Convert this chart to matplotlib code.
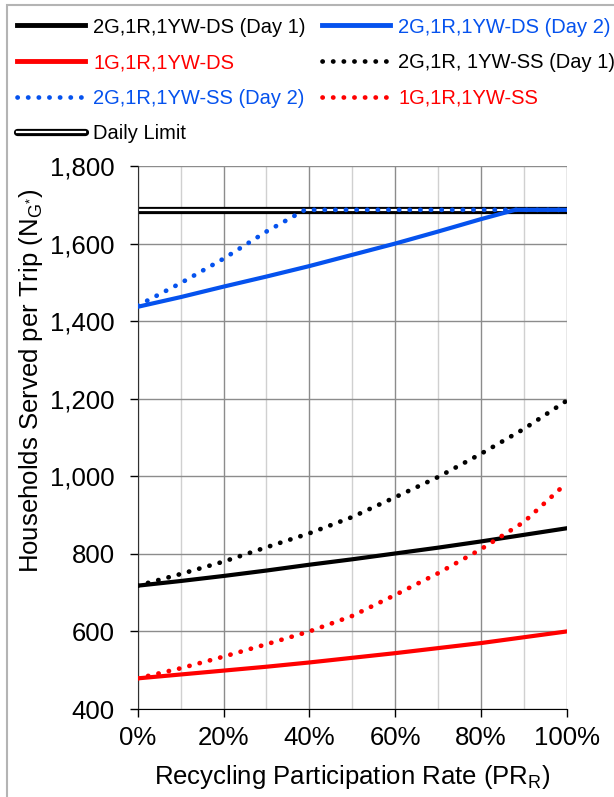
import matplotlib
matplotlib.use("Agg")
import matplotlib.pyplot as plt
from matplotlib.lines import Line2D
from matplotlib.legend_handler import HandlerTuple
from matplotlib.ticker import FuncFormatter, MultipleLocator

plt.rcParams['font.family'] = ['Liberation Sans', 'DejaVu Sans']
plt.rcParams['mathtext.fontset'] = 'custom'
plt.rcParams['mathtext.rm'] = 'Liberation Sans'
plt.rcParams['mathtext.it'] = 'Liberation Sans:italic'

# recycling participation rate (fraction)
pr = [0.0, 0.1, 0.2, 0.3, 0.4, 0.5, 0.6, 0.7, 0.8, 0.9, 1.0]

ds_day1 = [718, 730, 743, 757, 772, 786, 801, 816, 832, 849, 866]
ds_1g = [479, 489, 499, 509, 520, 532, 544, 557, 570, 585, 600]
ss_day1 = [718, 748, 780, 817, 853, 895, 946, 998, 1058, 1122, 1195]
ss_1g = [479, 505, 535, 567, 600, 640, 694, 750, 812, 882, 983]

pr_ds_day2 = [0.0, 0.1, 0.2, 0.3, 0.4, 0.5, 0.6, 0.7, 0.8, 0.88, 0.9, 1.0]
ds_day2 = [1437, 1462, 1489, 1515, 1542, 1571, 1600, 1631, 1663, 1687, 1687, 1687]
pr_ss_day2 = [0.0, 0.1, 0.2, 0.3, 0.39, 0.5, 0.6, 0.7, 0.8, 0.9, 1.0]
ss_day2 = [1440, 1498, 1561, 1631, 1687, 1687, 1687, 1687, 1687, 1687, 1687]

daily_limit = 1687

BLUE = '#0552ee'
RED = '#ff0000'
dots = (0, (0.05, 2.2))
DOT_LW = 3.4

fig = plt.figure(figsize=(6.14, 7.97), dpi=100)
ax = fig.add_axes([0.2243, 0.1104, 0.6987, 0.6813])

# daily limit: double line
ax.plot([0, 1], [daily_limit, daily_limit], color='black', lw=5.2, solid_capstyle='butt', zorder=2)
ax.plot([0, 1], [daily_limit, daily_limit], color='white', lw=1.6, solid_capstyle='butt', zorder=2)

ax.plot(pr, ds_day1, color='black', lw=3, zorder=3)
ax.plot(pr, ds_1g, color=RED, lw=3, zorder=3)
ax.plot(pr_ds_day2, ds_day2, color=BLUE, lw=3, zorder=3)
ax.plot(pr, ss_day1, color='black', lw=DOT_LW, linestyle=dots, dash_capstyle='round', zorder=3)
ax.plot(pr, ss_1g, color=RED, lw=DOT_LW, linestyle=dots, dash_capstyle='round', zorder=3)
ax.plot(pr_ss_day2, ss_day2, color=BLUE, lw=DOT_LW, linestyle=dots, dash_capstyle='round', zorder=3)

ax.set_xlim(0, 1)
ax.set_ylim(400, 1800)
ax.xaxis.set_major_locator(MultipleLocator(0.2))
ax.xaxis.set_minor_locator(MultipleLocator(0.1))
ax.yaxis.set_major_locator(MultipleLocator(200))
ax.xaxis.set_major_formatter(FuncFormatter(lambda v, p: f'{v*100:.0f}%'))
ax.yaxis.set_major_formatter(FuncFormatter(lambda v, p: f'{v:,.0f}'))

ax.grid(which='major', color='#8c8c8c', lw=1.0)
ax.grid(which='minor', axis='x', color='#d0d0d0', lw=1.0)
ax.set_axisbelow(True)
for s in ['top', 'right']:
    ax.spines[s].set_visible(False)
ax.spines['left'].set_color('#303030')
ax.spines['bottom'].set_color('black')
ax.tick_params(axis='both', which='major', direction='out', length=5.5, width=1,
               labelsize=18.5, colors='black')
ax.tick_params(axis='y', pad=11)
ax.tick_params(axis='x', pad=7)
ax.tick_params(axis='x', which='minor', length=0)

ax.set_xlabel('Recycling Participation Rate (PR$_\\mathrm{R}$)', fontsize=18.5, labelpad=9)
ax.set_ylabel('Households Served per Trip (N$_{\\mathrm{G}^{*}}$)', fontsize=18.5)
ax.yaxis.set_label_coords(-0.215, 0.604)

# legend (column-first order)
h_ds1 = Line2D([], [], color='black', lw=3.5)
h_ds2 = Line2D([], [], color=BLUE, lw=3.5)
h_1gds = Line2D([], [], color=RED, lw=3.5)
h_ss1 = Line2D([], [], color='black', lw=DOT_LW, linestyle=dots, dash_capstyle='round')
h_ss2 = Line2D([], [], color=BLUE, lw=DOT_LW, linestyle=dots, dash_capstyle='round')
h_1gss = Line2D([], [], color=RED, lw=DOT_LW, linestyle=dots, dash_capstyle='round')
h_lim = (Line2D([], [], color='black', lw=5.2, solid_capstyle='round'),
         Line2D([], [], color='white', lw=1.6))

handles = [h_ds1, h_1gds, h_ss2, h_lim, h_ds2, h_ss1, h_1gss]
labels = ['2G,1R,1YW-DS (Day 1)', '1G,1R,1YW-DS', '2G,1R,1YW-SS (Day 2)', 'Daily Limit',
          '2G,1R,1YW-DS (Day 2)', '2G,1R, 1YW-SS (Day 1)', '1G,1R,1YW-SS']
text_colors = ['black', RED, BLUE, 'black', BLUE, 'black', RED]

leg = fig.legend(handles, labels, ncol=2, loc='upper left', bbox_to_anchor=(0.027, 0.978),
                 frameon=False, fontsize=14.5, handlelength=3.4, handletextpad=0.4,
                 columnspacing=0.8, labelspacing=0.82, borderpad=0, borderaxespad=0,
                 handler_map={tuple: HandlerTuple(ndivide=1)})
for t, c in zip(leg.get_texts(), text_colors):
    t.set_color(c)

# chart-area border (left and top visible)
fig.add_artist(plt.Rectangle((7 / 614, -0.05), 1.2, 1.05 - 5 / 797, transform=fig.transFigure,
                             fill=False, edgecolor='#b4b4b4', lw=1.5, clip_on=False))

fig.savefig('out.png', dpi=100)
